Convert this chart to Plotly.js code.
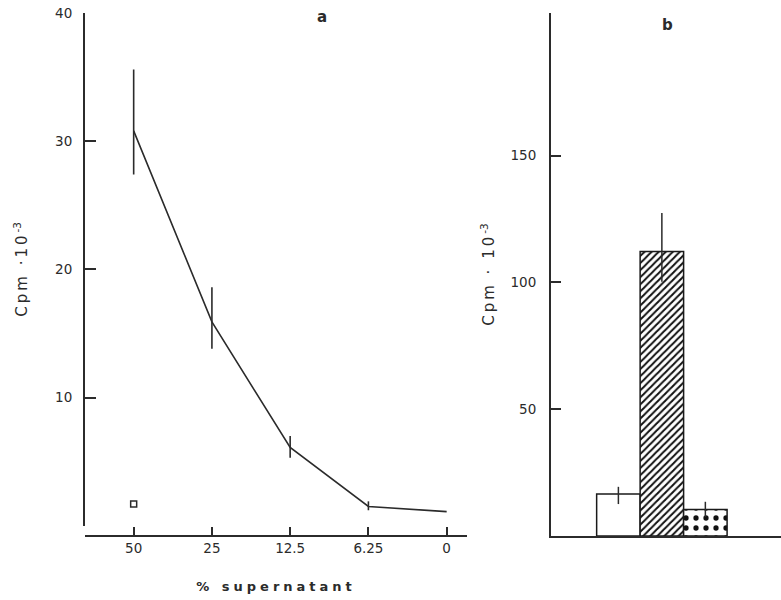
<!DOCTYPE html>
<html>
<head>
<meta charset="utf-8">
<script src="https://cdn.plot.ly/plotly-3.0.1.min.js"></script>
<style>html,body{margin:0;padding:0;background:#fff;}</style>
</head>
<body>
<div id="chart" style="width:781px;height:600px;"></div>
<script>
// Panel a: % supernatant dilution series
const supernatantLabels = ['50', '25', '12.5', '6.25', '0'];
const cpmA = [30.8, 15.9, 6.1, 1.5, 1.1];
const cpmAErrPlus = [4.8, 2.7, 0.9, 0.4, 0];
const cpmAErrMinus = [3.4, 2.1, 0.8, 0.3, 0];
const controlLabel = ['50'];
const controlCpm = [1.7];
const yTicksA = [10, 20, 30, 40];

// Panel b: bars
const barCategories = ['open', 'hatched', 'dotted'];
const barCpm = [16.6, 112.2, 10.5];
const barErrPlus = [2.8, 15.2, 3.0];
const barErrMinus = [4.0, 11.9, 3.0];
const yTicksB = [50, 100, 150];

const ink = '#2b2b2b';
const fontFam = 'DejaVu Sans, Verdana, sans-serif';
const W = 781;
const spaced = (t, px) => '<span style="letter-spacing:' + px + 'px">' + t + '</span>';

const traces = [
  {
    x: supernatantLabels, y: cpmA, type: 'scatter', mode: 'lines',
    xaxis: 'x', yaxis: 'y',
    line: {color: ink, width: 1.6},
    error_y: {type: 'data', symmetric: false, array: cpmAErrPlus, arrayminus: cpmAErrMinus,
              color: ink, thickness: 1.6, width: 0}
  },
  {
    x: controlLabel, y: controlCpm, type: 'scatter', mode: 'markers',
    xaxis: 'x', yaxis: 'y',
    marker: {symbol: 'square-open', size: 6, color: ink, line: {width: 1.5, color: ink}}
  },
  {
    x: barCategories, y: barCpm, type: 'bar',
    xaxis: 'x2', yaxis: 'y2',
    marker: {
      color: 'white',
      line: {color: '#1a1a1a', width: 1.5},
      pattern: {shape: ['', '/', '.'], fgcolor: '#111', bgcolor: 'white',
                size: [8, 5, 10], solidity: [0.2, 0.4, 0.22], fillmode: 'replace'}
    },
    error_y: {type: 'data', symmetric: false, array: barErrPlus, arrayminus: barErrMinus,
              color: ink, thickness: 1.5, width: 0}
  }
];

const layout = {
  width: 781, height: 600,
  margin: {l: 0, r: 0, t: 13, b: 64, pad: 0},
  paper_bgcolor: 'white', plot_bgcolor: 'white',
  showlegend: false,
  bargap: 0,
  font: {family: fontFam, color: ink, size: 13},
  xaxis: {
    domain: [85 / W, 467 / W], type: 'category', range: [-0.622, 4.26],
    anchor: 'free', position: 0,
    showline: true, linewidth: 2, linecolor: ink,
    ticks: 'inside', ticklen: 8, tickwidth: 2, tickcolor: ink,
    showgrid: false, zeroline: false,
    tickfont: {size: 13.5, family: fontFam, color: ink},
    title: {text: spaced('% supernatant', 4), font: {size: 13, family: fontFam, color: ink, weight: 'bold'}, standoff: 26}
  },
  yaxis: {
    domain: [10.3 / 523, 1], range: [0, 40], anchor: 'x',
    showline: true, linewidth: 2, linecolor: ink,
    tickvals: yTicksA,
    ticks: 'inside', ticklen: 11, tickwidth: 2, tickcolor: ink,
    ticklabelstandoff: 8,
    minor: {tickvals: [0], ticks: 'inside', ticklen: 11, tickwidth: 2, tickcolor: ink, showgrid: false},
    showgrid: false, zeroline: false,
    tickfont: {size: 13.5, family: fontFam, color: ink},
    title: {text: spaced('Cpm ·10', 3) + '<sup>-3</sup>', font: {size: 15, family: fontFam, color: ink}, standoff: 24}
  },
  xaxis2: {
    domain: [551 / W, 1], type: 'category', range: [-1.55, 3.74],
    anchor: 'y2',
    showline: true, linewidth: 2, linecolor: ink,
    tickvals: [], ticks: '', showticklabels: false, showgrid: false, zeroline: false
  },
  yaxis2: {
    domain: [0, 1], range: [0, 206.3], anchor: 'x2',
    showline: true, linewidth: 2, linecolor: ink,
    tickvals: yTicksB,
    ticks: 'inside', ticklen: 10, tickwidth: 2, tickcolor: ink,
    ticklabelstandoff: 10,
    showgrid: false, zeroline: false,
    tickfont: {size: 13.5, family: fontFam, color: ink},
    title: {text: spaced('Cpm · 10', 3) + '<sup>-3</sup>', font: {size: 15, family: fontFam, color: ink}, standoff: 12}
  },
  annotations: [
    {text: '<b>a</b>', xref: 'paper', yref: 'paper', x: 322 / W, y: (536 - 17) / 523,
     yanchor: 'middle', xanchor: 'center',
     showarrow: false, font: {size: 15, family: fontFam, color: ink}},
    {text: '<b>b</b>', xref: 'paper', yref: 'paper', x: 667 / W, y: (536 - 25) / 523,
     yanchor: 'middle', xanchor: 'center',
     showarrow: false, font: {size: 15, family: fontFam, color: ink}}
  ]
};

Plotly.newPlot('chart', traces, layout, {displayModeBar: false, staticPlot: true});
</script>
</body>
</html>
